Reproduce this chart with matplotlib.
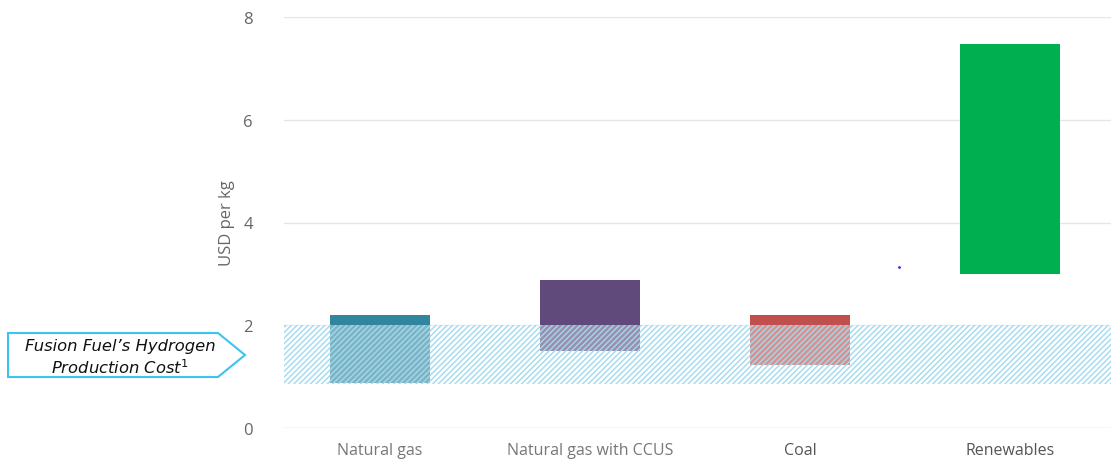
import matplotlib
matplotlib.use("Agg")
import matplotlib.pyplot as plt
from matplotlib.patches import Rectangle, Polygon

categories = ["Natural gas", "Natural gas with CCUS", "Coal", "Renewables"]
low_values = [0.88, 1.50, 1.23, 3.00]
high_values = [2.20, 2.88, 2.20, 7.47]
bar_colors = ["#31859c", "#604a7b", "#c0504d", "#00b050"]
label_colors = ["#777777", "#777777", "#555555", "#555555"]
band_low, band_high = 0.85, 2.0
yticks = [0, 2, 4, 6, 8]
stray_point = (2.47, 3.13)

plt.rcParams['font.family'] = ['Open Sans', 'DejaVu Sans']

fig = plt.figure(figsize=(11.11, 4.6), dpi=100)
ax = fig.add_axes([275/1111, 31/460, 840/1111, 411/460])
ax.set_xlim(-0.5, 3.5)
ax.set_ylim(0, 8)

for y in yticks:
    ax.axhline(y, xmin=0.011, color="#ccd6eb" if y == 0 else "#e6e6e6", lw=1, zorder=0)

x = list(range(len(categories)))
heights = [h - l for h, l in zip(high_values, low_values)]
ax.bar(x, heights, bottom=low_values, width=0.48, color=bar_colors, zorder=2)

# hatched band
band = Rectangle((-0.455, band_low), 4.0, band_high - band_low,
                 facecolor=(1, 1, 1, 0.38), edgecolor="#9fdaf0", hatch="//////",
                 lw=0, zorder=3)
ax.add_patch(band)

ax.plot([stray_point[0]], [stray_point[1]], marker='.', ms=2, color="#3030ff", zorder=4)

ax.set_yticks(yticks)
ax.set_yticklabels([str(v) for v in yticks], color="#666666", fontsize=12)
ax.set_xticks(x)
ax.set_xticklabels(categories, fontsize=11.5)
for lab, c in zip(ax.get_xticklabels(), label_colors):
    lab.set_color(c)
ax.tick_params(length=0, pad=10)
ax.tick_params(axis='y', pad=16)
for s in ax.spines.values():
    s.set_visible(False)
ax.set_ylabel("USD per kg", color="#666666", fontsize=12, labelpad=6)

# callout arrow box
pts = [(8, 334), (218, 334), (245, 356), (218, 378), (8, 378)]
fig_pts = [(px / 1111, 1 - py / 460) for px, py in pts]
fig.patches.append(Polygon(fig_pts, closed=True, transform=fig.transFigure,
                           facecolor="white", edgecolor="#3cc3ef", lw=1.5, figure=fig))
fig.text(120/1111, 1 - 347/460, "Fusion Fuel\u2019s Hydrogen", ha="center", va="center",
         fontsize=11.8, style="italic", family=["DejaVu Sans"], color="#111111")
fig.text(120/1111, 1 - 368/460, "Production Cost$^{\\mathit{1}}$", ha="center", va="center",
         fontsize=11.8, style="italic", family=["DejaVu Sans"], color="#111111")

fig.savefig("out.png", dpi=100)
